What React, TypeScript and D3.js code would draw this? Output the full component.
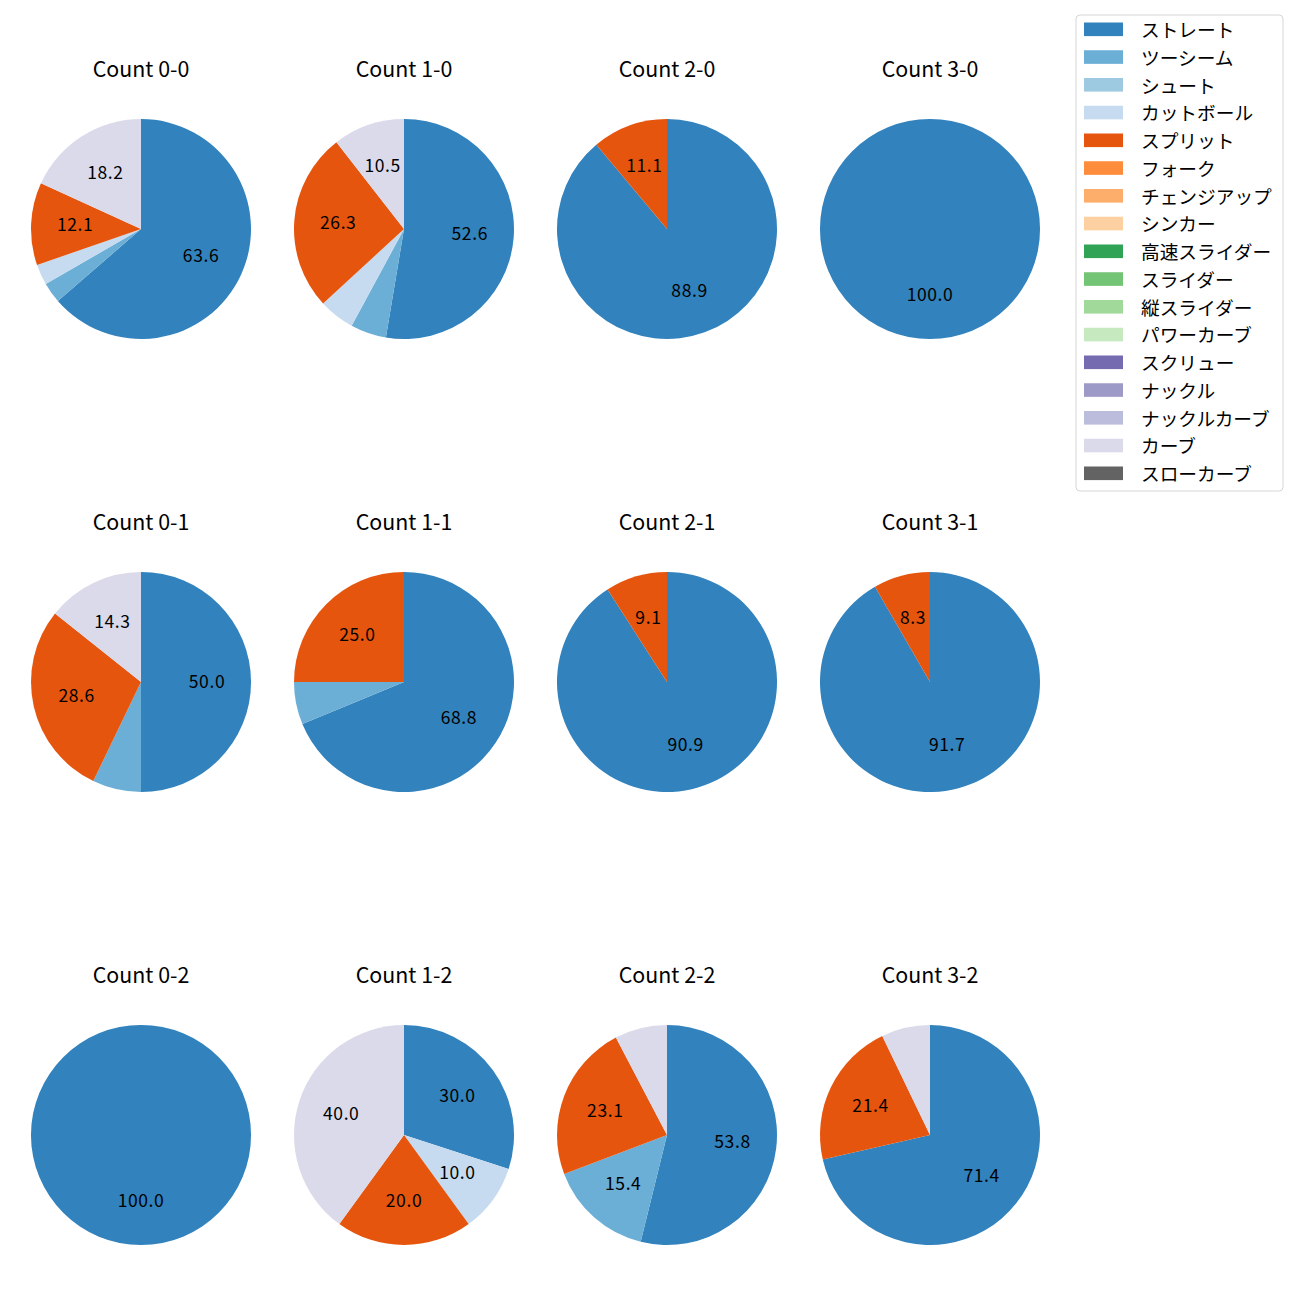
import React from "react";
import * as d3 from "d3";

const countLabels = ["0-0", "1-0", "2-0", "3-0", "0-1", "1-1", "2-1", "3-1", "0-2", "1-2", "2-2", "3-2"];

const pitchTypes = [
  "ストレート", "ツーシーム", "シュート", "カットボール", "スプリット", "フォーク",
  "チェンジアップ", "シンカー", "高速スライダー", "スライダー", "縦スライダー",
  "パワーカーブ", "スクリュー", "ナックル", "ナックルカーブ", "カーブ", "スローカーブ",
];

const pitchColors = [
  "#3182bd", "#6baed6", "#9ecae1", "#c6dbef", "#e6550d", "#fd8d3c",
  "#fdae6b", "#fdd0a2", "#31a354", "#74c476", "#a1d99b",
  "#c7e9c0", "#756bb1", "#9e9ac8", "#bcbddc", "#dadaeb", "#636363",
];

// pitch counts per ball-strike count (order of countLabels)
const straight = [21, 10, 8, 3, 7, 11, 10, 11, 5, 3, 7, 10];
const twoSeam = [1, 1, 0, 0, 1, 1, 0, 0, 0, 0, 2, 0];
const cutBall = [1, 1, 0, 0, 0, 0, 0, 0, 0, 1, 0, 0];
const split = [4, 5, 1, 0, 4, 4, 1, 1, 0, 2, 3, 3];
const curve = [6, 2, 0, 0, 2, 0, 0, 0, 0, 4, 1, 1];
const zeros = [0, 0, 0, 0, 0, 0, 0, 0, 0, 0, 0, 0];

const seriesByType: number[][] = [
  straight, twoSeam, zeros, cutBall, split, zeros,
  zeros, zeros, zeros, zeros, zeros,
  zeros, zeros, zeros, zeros, curve, zeros,
];

const FONT = "'Noto Sans CJK JP', 'Noto Sans', sans-serif";

export default function App() {
  const W = 1300, H = 1300;
  const colX = d3.scaleLinear().domain([0, 3]).range([141, 930]);
  const rowY = d3.scaleLinear().domain([0, 2]).range([229, 1135]);
  const R = 110;
  const pie = d3.pie<number>().sort(null).value((d) => d).startAngle(0).endAngle(2 * Math.PI);
  const arc = d3.arc<d3.PieArcDatum<number>>().innerRadius(0).outerRadius(R);

  const legendX = 1076, legendY = 15;
  const rowH = 27.75;

  return (
    <svg width={W} height={H} style={{ display: "block", position: "absolute", left: 0, top: 0 }} fontFamily={FONT}>
      <rect width={W} height={H} fill="#fff" />
      {countLabels.map((lab, i) => {
        const col = i % 4, row = Math.floor(i / 4);
        const cx = colX(col), cy = rowY(row);
        const vals = seriesByType.map((s) => s[i]);
        const total = d3.sum(vals);
        const arcs = pie(vals);
        return (
          <g key={lab}>
            <text x={cx} y={cy - 162} textAnchor="middle" dominantBaseline="central" fontSize={21.4} fill="#000">
              {`Count ${lab}`}
            </text>
            <g transform={`translate(${cx},${cy})`}>
              {arcs.map((a, j) =>
                a.value > 0 ? <path key={j} d={arc(a) || ""} fill={pitchColors[j]} /> : null
              )}
              {arcs.map((a, j) => {
                const pct = (a.value / total) * 100;
                if (pct < 8) return null;
                const mid = (a.startAngle + a.endAngle) / 2;
                const r = R * 0.6;
                return (
                  <text key={"t" + j} x={Math.sin(mid) * r} y={-Math.cos(mid) * r - 2} textAnchor="middle"
                    dominantBaseline="central" fontSize={17.5} letterSpacing={0.6} fill="#000">
                    {pct.toFixed(1)}
                  </text>
                );
              })}
            </g>
          </g>
        );
      })}
      <rect x={legendX} y={legendY} width={207} height={476} rx={4} fill="#fff" stroke="#d6d6d6" strokeWidth={1} />
      {pitchTypes.map((p, j) => {
        const y = legendY + 14.3 + j * rowH;
        return (
          <g key={p}>
            <rect x={1084} y={y - 6.8} width={39} height={13.6} fill={pitchColors[j]} />
            <text x={1141} y={y - 0.8} dominantBaseline="central" fontSize={18.7} fill="#000">{p}</text>
          </g>
        );
      })}
    </svg>
  );
}
